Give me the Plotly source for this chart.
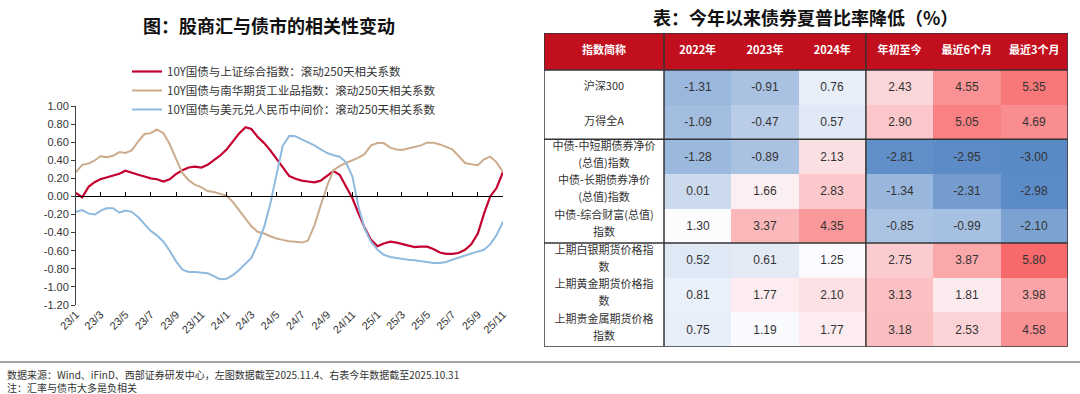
import numpy as np
import plotly.graph_objects as go

W, H = 1080, 394

# ------------------------------------------------------------------
# Left chart data: rolling 250-day correlations, read semi-monthly
# ------------------------------------------------------------------
dates = [f"{y}-{m:02d}-{d:02d}" for y in (2023, 2024, 2025)
         for m in range(1, 13) for d in (1, 16)][:69]

corr_sse = [0.04, -0.01, 0.11, 0.16, 0.19, 0.21, 0.225, 0.25, 0.285, 0.26,
            0.24, 0.22, 0.20, 0.19, 0.165, 0.19, 0.25, 0.29, 0.32, 0.33,
            0.32, 0.35, 0.395, 0.45, 0.52, 0.61, 0.70, 0.765, 0.745, 0.66,
            0.59, 0.51, 0.42, 0.32, 0.225, 0.195, 0.175, 0.165, 0.155, 0.175,
            0.225, 0.28, 0.24, 0.11, -0.02, -0.19, -0.35, -0.48, -0.55, -0.52,
            -0.50, -0.51, -0.525, -0.545, -0.56, -0.555, -0.555, -0.58, -0.62, -0.635,
            -0.635, -0.625, -0.59, -0.53, -0.41, -0.19, 0.0, 0.09, 0.27]

corr_nanhua = [0.27, 0.35, 0.365, 0.40, 0.445, 0.435, 0.45, 0.49, 0.48, 0.51,
               0.61, 0.69, 0.70, 0.74, 0.70, 0.58, 0.41, 0.26, 0.18, 0.13,
               0.10, 0.06, 0.05, 0.03, 0.01, -0.06, -0.16, -0.25, -0.33, -0.39,
               -0.41, -0.44, -0.465, -0.48, -0.495, -0.50, -0.51, -0.49, -0.32, -0.10,
               0.12, 0.29, 0.335, 0.37, 0.40, 0.43, 0.47, 0.565, 0.59, 0.59,
               0.54, 0.52, 0.515, 0.53, 0.55, 0.565, 0.595, 0.595, 0.575, 0.55,
               0.52, 0.45, 0.37, 0.355, 0.345, 0.41, 0.44, 0.38, 0.27]

corr_usdcny = [-0.17, -0.15, -0.19, -0.20, -0.16, -0.13, -0.13, -0.18, -0.155, -0.17,
               -0.23, -0.31, -0.38, -0.43, -0.50, -0.60, -0.72, -0.81, -0.835, -0.835,
               -0.84, -0.85, -0.88, -0.915, -0.91, -0.87, -0.81, -0.74, -0.68, -0.53,
               -0.34, -0.08, 0.23, 0.56, 0.67, 0.665, 0.63, 0.60, 0.565, 0.52,
               0.48, 0.455, 0.44, 0.38, 0.22, -0.12, -0.36, -0.50, -0.59, -0.645,
               -0.67, -0.68, -0.69, -0.70, -0.705, -0.715, -0.73, -0.735, -0.735, -0.725,
               -0.70, -0.675, -0.65, -0.63, -0.61, -0.59, -0.53, -0.43, -0.28]

series_names = ["10Y国债与上证综合指数：滚动250天相关系数",
                "10Y国债与南华期货工业品指数：滚动250天相关系数",
                "10Y国债与美元兑人民币中间价：滚动250天相关系数"]

x_tick_dates = [f"{2023 + (i * 2) // 12}-{(i * 2) % 12 + 1:02d}-01" for i in range(18)]
x_tick_labels = ["23/1", "23/3", "23/5", "23/7", "23/9", "23/11",
                 "24/1", "24/3", "24/5", "24/7", "24/9", "24/11",
                 "25/1", "25/3", "25/5", "25/7", "25/9", "25/11"]
y_ticks = [1.0, 0.8, 0.6, 0.4, 0.2, 0.0, -0.2, -0.4, -0.6, -0.8, -1.0, -1.2]

# ------------------------------------------------------------------
# Right table data: bond Sharpe ratios
# ------------------------------------------------------------------
header_labels = ["指数简称", "2022年", "2023年", "2024年", "年初至今", "最近6个月", "最近3个月"]
row_labels = [["沪深300"], ["万得全A"],
              ["中债-中短期债券净价", "(总值)指数"],
              ["中债-长期债券净价", "(总值)指数"],
              ["中债-综合财富(总值)", "指数"],
              ["上期白银期货价格指", "数"],
              ["上期黄金期货价格指", "数"],
              ["上期贵金属期货价格", "指数"]]
sharpe_2022 = [-1.31, -1.09, -1.28, 0.01, 1.30, 0.52, 0.81, 0.75]
sharpe_2023 = [-0.91, -0.47, -0.89, 1.66, 3.37, 0.61, 1.77, 1.19]
sharpe_2024 = [0.76, 0.57, 2.13, 2.83, 4.35, 1.25, 2.10, 1.77]
sharpe_ytd = [2.43, 2.90, -2.81, -1.34, -0.85, 2.75, 3.13, 3.18]
sharpe_6m = [4.55, 5.05, -2.95, -2.31, -0.99, 3.87, 1.81, 2.53]
sharpe_3m = [5.35, 4.69, -3.00, -2.98, -2.10, 5.80, 3.98, 4.58]
row_groups = [2, 3, 3]
col_groups = [1, 3, 3]

footer_lines = ["数据来源：Wind、iFinD、西部证券研发中心，左图数据截至2025.11.4、右表今年数据截至2025.10.31",
                "注：汇率与债市大多是负相关"]

# ------------------------------------------------------------------
# Styles / layout geometry (pixels)
# ------------------------------------------------------------------
CJK = "Noto Sans CJK SC"
LAT = "Liberation Sans, Arial, sans-serif"
TXT = "#333333"
AX = "#404040"
line_colors = ["#C3002F", "#CCAC8C", "#8FBAE0"]
line_widths = [2.2, 2.0, 2.0]

PL, PR, PT, PB = 76, 503, 106, 305
TBL_L, TBL_T = 544, 33
FIRST_W, COL_W = 120, 67.3
HEAD_H, ROW_H = 37, 34.6
LINE_GAP = 17

BLUE, WHITE, RED = "#5A8AC6", "#FCFCFF", "#F8696B"
HEAD_RED = "#C20F1E"

fig = go.Figure()

series = [corr_sse, corr_nanhua, corr_usdcny]
for i, (name, vals) in enumerate(zip(series_names, series)):
    fig.add_trace(go.Scatter(
        x=dates, y=vals, name=name, mode="lines",
        line=dict(color=line_colors[i], width=line_widths[i]),
        xaxis="x2" if i == 2 else "x", yaxis="y",
        hoverinfo="skip"))

# ---------------- table as heatmap ----------------
value_cols = [sharpe_2022, sharpe_2023, sharpe_2024, sharpe_ytd, sharpe_6m, sharpe_3m]
z = [list(r) for r in zip(*value_cols)]
all_vals = np.array(z).ravel()
vmin, vmax, vmid = all_vals.min(), all_vals.max(), float(np.median(all_vals))
mid_frac = (vmid - vmin) / (vmax - vmin)

col_widths = [FIRST_W] + [COL_W] * len(value_cols)
col_edges = list(np.concatenate([[0], np.cumsum(col_widths)]))
row_edges = list(HEAD_H + np.arange(len(row_labels) + 1) * ROW_H)
total_w, total_h = col_edges[-1], row_edges[-1]
col_centers = [(a + b) / 2 for a, b in zip(col_edges[:-1], col_edges[1:])]
row_centers = [(a + b) / 2 for a, b in zip(row_edges[:-1], row_edges[1:])]

fig.add_trace(go.Heatmap(
    x=col_edges, y=[0, HEAD_H], z=[[1] * len(header_labels)],
    colorscale=[[0, HEAD_RED], [1, HEAD_RED]], showscale=False,
    xaxis="x3", yaxis="y3", hoverinfo="skip"))

fig.add_trace(go.Heatmap(
    x=col_edges[1:], y=row_edges, z=z, zmin=vmin, zmax=vmax,
    colorscale=[[0, BLUE], [mid_frac, WHITE], [1, RED]], showscale=False,
    text=[[f"{v:.2f}" for v in r] for r in z], texttemplate="%{text}",
    textfont=dict(family=LAT, size=12, color=TXT),
    xaxis="x3", yaxis="y3", hoverinfo="skip"))

fig.add_trace(go.Scatter(
    x=col_centers, y=[HEAD_H / 2] * len(header_labels),
    text=[f"<b>{h}</b>" for h in header_labels], mode="text",
    textfont=dict(family=CJK, size=11, color="white"),
    xaxis="x3", yaxis="y3", showlegend=False, hoverinfo="skip"))

lab_x, lab_y, lab_t = [], [], []
for rc, lines in zip(row_centers, row_labels):
    n = len(lines)
    for j, t in enumerate(lines):
        lab_x.append(col_centers[0])
        lab_y.append(rc - 1 + (j - (n - 1) / 2) * LINE_GAP if n > 1 else rc)
        lab_t.append(t)
fig.add_trace(go.Scatter(
    x=lab_x, y=lab_y, text=lab_t, mode="text",
    textfont=dict(family=CJK, size=11, color=TXT),
    xaxis="x3", yaxis="y3", showlegend=False, hoverinfo="skip"))

shapes = []
BORDER = dict(color="#333333", width=1.5)
v_lines = np.concatenate([[0], np.cumsum([FIRST_W] + [COL_W * g for g in col_groups[1:]])])
for xv in v_lines:
    shapes.append(dict(type="line", xref="x3", yref="y3", x0=xv, x1=xv,
                       y0=0, y1=total_h, line=BORDER))
for yv in [0] + [row_edges[k] for k in np.concatenate([[0], np.cumsum(row_groups)])]:
    shapes.append(dict(type="line", xref="x3", yref="y3", x0=0, x1=total_w,
                       y0=yv, y1=yv, line=BORDER))
shapes.append(dict(type="line", xref="paper", yref="paper", x0=0, x1=1,
                   y0=1 - 362 / H, y1=1 - 362 / H, line=dict(color="#444444", width=1)))

y_dom = [1 - PB / H, 1 - PT / H]
zero_pos = y_dom[0] + (0 - (-1.2)) / (1.0 - (-1.2)) * (y_dom[1] - y_dom[0])
x_range = [dates[0], dates[-1]]

annotations = [
    dict(text="<b>图：股商汇与债市的相关性变动</b>", x=269 / W, y=1 - 25 / H,
         xref="paper", yref="paper", xanchor="center", yanchor="middle", showarrow=False,
         font=dict(family=CJK, size=18, color="#111111")),
    dict(text="<b>表：今年以来债券夏普比率降低（%）</b>", x=(TBL_L + total_w / 2) / W, y=1 - 17 / H,
         xref="paper", yref="paper", xanchor="center", yanchor="middle", showarrow=False,
         font=dict(family=CJK, size=18, color="#111111")),
    dict(text="<br>".join(footer_lines), align="left",
         x=5 / W, y=1 - 380.5 / H, xref="paper", yref="paper", xanchor="left", yanchor="middle",
         showarrow=False, font=dict(family=CJK, size=10, color=TXT)),
]

fig.update_layout(
    template="none",
    width=W, height=H, margin=dict(l=0, r=0, t=0, b=0, pad=0, autoexpand=False),
    paper_bgcolor="white", plot_bgcolor="rgba(0,0,0,0)",
    font=dict(family=CJK, color=TXT),
    showlegend=True,
    legend=dict(x=127 / W, y=1 - 57 / H, xanchor="left", yanchor="top",
                bgcolor="rgba(0,0,0,0)", font=dict(family=CJK, size=11.5, color=TXT),
                tracegroupgap=0, itemwidth=30),
    xaxis=dict(domain=[PL / W, PR / W], type="date", range=x_range,
               tickvals=x_tick_dates, ticktext=x_tick_labels, tickangle=-45,
               showline=False, showgrid=False, zeroline=False, ticks="",
               tickfont=dict(family=LAT, size=11, color=TXT), anchor="y",
               automargin=False),
    xaxis2=dict(overlaying="x", type="date", range=x_range, anchor="free",
                position=zero_pos, tickvals=x_tick_dates, showticklabels=False,
                showline=True, linecolor="#000000", linewidth=1,
                ticks="inside", ticklen=4, tickcolor="#000000",
                showgrid=False, zeroline=False, automargin=False),
    yaxis=dict(domain=y_dom, range=[-1.2, 1.0], tickvals=y_ticks,
               ticktext=[f"{v:.2f}" for v in y_ticks],
               showline=True, linecolor=AX, linewidth=1, ticks="outside",
               ticklen=4, tickcolor=AX, showgrid=False, zeroline=False,
               tickfont=dict(family=LAT, size=11, color=TXT), anchor="x",
               automargin=False),
    xaxis3=dict(domain=[TBL_L / W, (TBL_L + total_w) / W], range=[0, total_w],
                visible=False, anchor="y3", automargin=False),
    yaxis3=dict(domain=[1 - (TBL_T + total_h) / H, 1 - TBL_T / H],
                range=[total_h, 0], visible=False, anchor="x3", automargin=False),
    shapes=shapes, annotations=annotations,
)

fig.write_html("out.html", config={"displayModeBar": False},
               post_script="document.body.style.margin='0';document.body.style.overflow='hidden';")
